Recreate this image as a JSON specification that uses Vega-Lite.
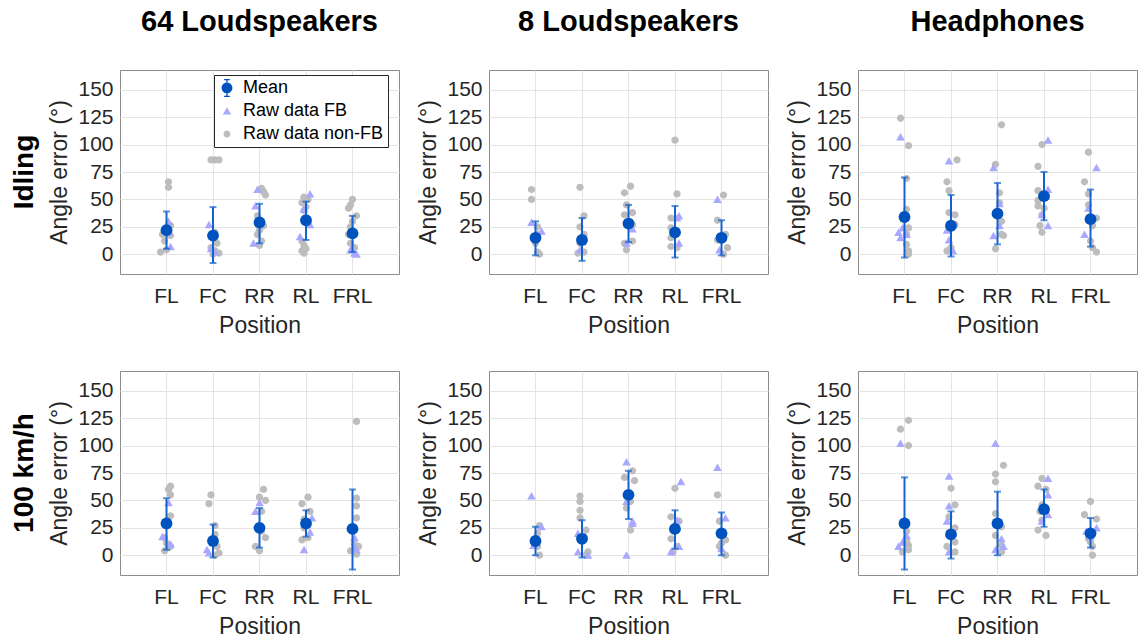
{
"$schema": "https://vega.github.io/schema/vega-lite/v6.json",
"background": "white",
"padding": {"left": 11, "top": 8, "right": 0, "bottom": 0},
"data": {"values": [
{"r":"Idling","c":"64 Loudspeakers","p":"FL","g":"Mean","v":22,"lo":5,"hi":39},
{"r":"Idling","c":"64 Loudspeakers","p":"FC","g":"Mean","v":17,"lo":-8,"hi":43},
{"r":"Idling","c":"64 Loudspeakers","p":"RR","g":"Mean","v":29,"lo":10,"hi":46},
{"r":"Idling","c":"64 Loudspeakers","p":"RL","g":"Mean","v":31,"lo":13,"hi":48},
{"r":"Idling","c":"64 Loudspeakers","p":"FRL","g":"Mean","v":19,"lo":2,"hi":35},
{"r":"Idling","c":"64 Loudspeakers","p":"FL","g":"Raw data non-FB","v":66,"j":6},
{"r":"Idling","c":"64 Loudspeakers","p":"FL","g":"Raw data non-FB","v":61,"j":6},
{"r":"Idling","c":"64 Loudspeakers","p":"FL","g":"Raw data non-FB","v":26,"j":7},
{"r":"Idling","c":"64 Loudspeakers","p":"FL","g":"Raw data non-FB","v":17,"j":7},
{"r":"Idling","c":"64 Loudspeakers","p":"FL","g":"Raw data non-FB","v":18,"j":3},
{"r":"Idling","c":"64 Loudspeakers","p":"FL","g":"Raw data non-FB","v":2,"j":2},
{"r":"Idling","c":"64 Loudspeakers","p":"FL","g":"Raw data non-FB","v":4,"j":5},
{"r":"Idling","c":"64 Loudspeakers","p":"FL","g":"Raw data non-FB","v":12,"j":4},
{"r":"Idling","c":"64 Loudspeakers","p":"FL","g":"Raw data non-FB","v":22,"j":6},
{"r":"Idling","c":"64 Loudspeakers","p":"FC","g":"Raw data non-FB","v":86,"j":4},
{"r":"Idling","c":"64 Loudspeakers","p":"FC","g":"Raw data non-FB","v":86,"j":6},
{"r":"Idling","c":"64 Loudspeakers","p":"FC","g":"Raw data non-FB","v":86,"j":8},
{"r":"Idling","c":"64 Loudspeakers","p":"FC","g":"Raw data non-FB","v":20,"j":6},
{"r":"Idling","c":"64 Loudspeakers","p":"FC","g":"Raw data non-FB","v":15,"j":5},
{"r":"Idling","c":"64 Loudspeakers","p":"FC","g":"Raw data non-FB","v":10,"j":7},
{"r":"Idling","c":"64 Loudspeakers","p":"FC","g":"Raw data non-FB","v":6,"j":4},
{"r":"Idling","c":"64 Loudspeakers","p":"FC","g":"Raw data non-FB","v":3,"j":6},
{"r":"Idling","c":"64 Loudspeakers","p":"FC","g":"Raw data non-FB","v":1,"j":8},
{"r":"Idling","c":"64 Loudspeakers","p":"FC","g":"Raw data non-FB","v":0,"j":5},
{"r":"Idling","c":"64 Loudspeakers","p":"RR","g":"Raw data non-FB","v":60,"j":6},
{"r":"Idling","c":"64 Loudspeakers","p":"RR","g":"Raw data non-FB","v":57,"j":7},
{"r":"Idling","c":"64 Loudspeakers","p":"RR","g":"Raw data non-FB","v":54,"j":8},
{"r":"Idling","c":"64 Loudspeakers","p":"RR","g":"Raw data non-FB","v":35,"j":4},
{"r":"Idling","c":"64 Loudspeakers","p":"RR","g":"Raw data non-FB","v":30,"j":6},
{"r":"Idling","c":"64 Loudspeakers","p":"RR","g":"Raw data non-FB","v":26,"j":7},
{"r":"Idling","c":"64 Loudspeakers","p":"RR","g":"Raw data non-FB","v":22,"j":5},
{"r":"Idling","c":"64 Loudspeakers","p":"RR","g":"Raw data non-FB","v":18,"j":4},
{"r":"Idling","c":"64 Loudspeakers","p":"RR","g":"Raw data non-FB","v":12,"j":6},
{"r":"Idling","c":"64 Loudspeakers","p":"RR","g":"Raw data non-FB","v":8,"j":5},
{"r":"Idling","c":"64 Loudspeakers","p":"RL","g":"Raw data non-FB","v":52,"j":4},
{"r":"Idling","c":"64 Loudspeakers","p":"RL","g":"Raw data non-FB","v":50,"j":6},
{"r":"Idling","c":"64 Loudspeakers","p":"RL","g":"Raw data non-FB","v":47,"j":3},
{"r":"Idling","c":"64 Loudspeakers","p":"RL","g":"Raw data non-FB","v":43,"j":5},
{"r":"Idling","c":"64 Loudspeakers","p":"RL","g":"Raw data non-FB","v":40,"j":4},
{"r":"Idling","c":"64 Loudspeakers","p":"RL","g":"Raw data non-FB","v":28,"j":6},
{"r":"Idling","c":"64 Loudspeakers","p":"RL","g":"Raw data non-FB","v":12,"j":3},
{"r":"Idling","c":"64 Loudspeakers","p":"RL","g":"Raw data non-FB","v":8,"j":4},
{"r":"Idling","c":"64 Loudspeakers","p":"RL","g":"Raw data non-FB","v":5,"j":5},
{"r":"Idling","c":"64 Loudspeakers","p":"RL","g":"Raw data non-FB","v":3,"j":3},
{"r":"Idling","c":"64 Loudspeakers","p":"RL","g":"Raw data non-FB","v":1,"j":4},
{"r":"Idling","c":"64 Loudspeakers","p":"FRL","g":"Raw data non-FB","v":50,"j":5},
{"r":"Idling","c":"64 Loudspeakers","p":"FRL","g":"Raw data non-FB","v":45,"j":4},
{"r":"Idling","c":"64 Loudspeakers","p":"FRL","g":"Raw data non-FB","v":42,"j":3},
{"r":"Idling","c":"64 Loudspeakers","p":"FRL","g":"Raw data non-FB","v":35,"j":7},
{"r":"Idling","c":"64 Loudspeakers","p":"FRL","g":"Raw data non-FB","v":30,"j":5},
{"r":"Idling","c":"64 Loudspeakers","p":"FRL","g":"Raw data non-FB","v":25,"j":4},
{"r":"Idling","c":"64 Loudspeakers","p":"FRL","g":"Raw data non-FB","v":18,"j":3},
{"r":"Idling","c":"64 Loudspeakers","p":"FRL","g":"Raw data non-FB","v":10,"j":4},
{"r":"Idling","c":"64 Loudspeakers","p":"FRL","g":"Raw data non-FB","v":6,"j":6},
{"r":"Idling","c":"64 Loudspeakers","p":"FL","g":"Raw data FB","v":30,"j":6},
{"r":"Idling","c":"64 Loudspeakers","p":"FL","g":"Raw data FB","v":7,"j":7},
{"r":"Idling","c":"64 Loudspeakers","p":"FL","g":"Raw data FB","v":20,"j":6},
{"r":"Idling","c":"64 Loudspeakers","p":"FC","g":"Raw data FB","v":27,"j":3},
{"r":"Idling","c":"64 Loudspeakers","p":"FC","g":"Raw data FB","v":5,"j":4},
{"r":"Idling","c":"64 Loudspeakers","p":"FC","g":"Raw data FB","v":2,"j":6},
{"r":"Idling","c":"64 Loudspeakers","p":"RR","g":"Raw data FB","v":59,"j":4},
{"r":"Idling","c":"64 Loudspeakers","p":"RR","g":"Raw data FB","v":44,"j":3},
{"r":"Idling","c":"64 Loudspeakers","p":"RR","g":"Raw data FB","v":10,"j":2},
{"r":"Idling","c":"64 Loudspeakers","p":"RL","g":"Raw data FB","v":55,"j":7},
{"r":"Idling","c":"64 Loudspeakers","p":"RL","g":"Raw data FB","v":41,"j":4},
{"r":"Idling","c":"64 Loudspeakers","p":"RL","g":"Raw data FB","v":27,"j":7},
{"r":"Idling","c":"64 Loudspeakers","p":"RL","g":"Raw data FB","v":16,"j":2},
{"r":"Idling","c":"64 Loudspeakers","p":"FRL","g":"Raw data FB","v":4,"j":4},
{"r":"Idling","c":"64 Loudspeakers","p":"FRL","g":"Raw data FB","v":1,"j":6},
{"r":"Idling","c":"64 Loudspeakers","p":"FRL","g":"Raw data FB","v":0,"j":7},

{"r":"Idling","c":"8 Loudspeakers","p":"FL","g":"Mean","v":15,"lo":-1,"hi":30},
{"r":"Idling","c":"8 Loudspeakers","p":"FC","g":"Mean","v":13,"lo":-6,"hi":33},
{"r":"Idling","c":"8 Loudspeakers","p":"RR","g":"Mean","v":28,"lo":11,"hi":45},
{"r":"Idling","c":"8 Loudspeakers","p":"RL","g":"Mean","v":20,"lo":-3,"hi":44},
{"r":"Idling","c":"8 Loudspeakers","p":"FRL","g":"Mean","v":15,"lo":-1,"hi":31},
{"r":"Idling","c":"8 Loudspeakers","p":"FL","g":"Raw data non-FB","v":59,"j":3},
{"r":"Idling","c":"8 Loudspeakers","p":"FL","g":"Raw data non-FB","v":50,"j":3},
{"r":"Idling","c":"8 Loudspeakers","p":"FL","g":"Raw data non-FB","v":25,"j":6},
{"r":"Idling","c":"8 Loudspeakers","p":"FL","g":"Raw data non-FB","v":18,"j":6},
{"r":"Idling","c":"8 Loudspeakers","p":"FL","g":"Raw data non-FB","v":10,"j":5},
{"r":"Idling","c":"8 Loudspeakers","p":"FL","g":"Raw data non-FB","v":2,"j":6},
{"r":"Idling","c":"8 Loudspeakers","p":"FL","g":"Raw data non-FB","v":0,"j":7},
{"r":"Idling","c":"8 Loudspeakers","p":"FC","g":"Raw data non-FB","v":61,"j":4},
{"r":"Idling","c":"8 Loudspeakers","p":"FC","g":"Raw data non-FB","v":35,"j":6},
{"r":"Idling","c":"8 Loudspeakers","p":"FC","g":"Raw data non-FB","v":25,"j":4},
{"r":"Idling","c":"8 Loudspeakers","p":"FC","g":"Raw data non-FB","v":18,"j":6},
{"r":"Idling","c":"8 Loudspeakers","p":"FC","g":"Raw data non-FB","v":10,"j":4},
{"r":"Idling","c":"8 Loudspeakers","p":"FC","g":"Raw data non-FB","v":2,"j":6},
{"r":"Idling","c":"8 Loudspeakers","p":"FC","g":"Raw data non-FB","v":1,"j":3},
{"r":"Idling","c":"8 Loudspeakers","p":"RR","g":"Raw data non-FB","v":62,"j":6},
{"r":"Idling","c":"8 Loudspeakers","p":"RR","g":"Raw data non-FB","v":56,"j":3},
{"r":"Idling","c":"8 Loudspeakers","p":"RR","g":"Raw data non-FB","v":45,"j":4},
{"r":"Idling","c":"8 Loudspeakers","p":"RR","g":"Raw data non-FB","v":36,"j":3},
{"r":"Idling","c":"8 Loudspeakers","p":"RR","g":"Raw data non-FB","v":38,"j":7},
{"r":"Idling","c":"8 Loudspeakers","p":"RR","g":"Raw data non-FB","v":27,"j":7},
{"r":"Idling","c":"8 Loudspeakers","p":"RR","g":"Raw data non-FB","v":12,"j":7},
{"r":"Idling","c":"8 Loudspeakers","p":"RR","g":"Raw data non-FB","v":4,"j":4},
{"r":"Idling","c":"8 Loudspeakers","p":"RR","g":"Raw data non-FB","v":10,"j":3},
{"r":"Idling","c":"8 Loudspeakers","p":"RL","g":"Raw data non-FB","v":104,"j":5},
{"r":"Idling","c":"8 Loudspeakers","p":"RL","g":"Raw data non-FB","v":55,"j":6},
{"r":"Idling","c":"8 Loudspeakers","p":"RL","g":"Raw data non-FB","v":33,"j":3},
{"r":"Idling","c":"8 Loudspeakers","p":"RL","g":"Raw data non-FB","v":24,"j":3},
{"r":"Idling","c":"8 Loudspeakers","p":"RL","g":"Raw data non-FB","v":15,"j":3},
{"r":"Idling","c":"8 Loudspeakers","p":"RL","g":"Raw data non-FB","v":6,"j":6},
{"r":"Idling","c":"8 Loudspeakers","p":"RL","g":"Raw data non-FB","v":7,"j":3},
{"r":"Idling","c":"8 Loudspeakers","p":"FRL","g":"Raw data non-FB","v":54,"j":6},
{"r":"Idling","c":"8 Loudspeakers","p":"FRL","g":"Raw data non-FB","v":31,"j":3},
{"r":"Idling","c":"8 Loudspeakers","p":"FRL","g":"Raw data non-FB","v":18,"j":7},
{"r":"Idling","c":"8 Loudspeakers","p":"FRL","g":"Raw data non-FB","v":13,"j":3},
{"r":"Idling","c":"8 Loudspeakers","p":"FRL","g":"Raw data non-FB","v":6,"j":8},
{"r":"Idling","c":"8 Loudspeakers","p":"FRL","g":"Raw data non-FB","v":0,"j":6},
{"r":"Idling","c":"8 Loudspeakers","p":"FL","g":"Raw data FB","v":29,"j":3},
{"r":"Idling","c":"8 Loudspeakers","p":"FL","g":"Raw data FB","v":21,"j":8},
{"r":"Idling","c":"8 Loudspeakers","p":"FC","g":"Raw data FB","v":4,"j":4},
{"r":"Idling","c":"8 Loudspeakers","p":"RR","g":"Raw data FB","v":23,"j":7},
{"r":"Idling","c":"8 Loudspeakers","p":"RR","g":"Raw data FB","v":10,"j":4},
{"r":"Idling","c":"8 Loudspeakers","p":"RL","g":"Raw data FB","v":35,"j":7},
{"r":"Idling","c":"8 Loudspeakers","p":"RL","g":"Raw data FB","v":33,"j":6},
{"r":"Idling","c":"8 Loudspeakers","p":"RL","g":"Raw data FB","v":10,"j":7},
{"r":"Idling","c":"8 Loudspeakers","p":"FRL","g":"Raw data FB","v":50,"j":3},
{"r":"Idling","c":"8 Loudspeakers","p":"FRL","g":"Raw data FB","v":4,"j":4},

{"r":"Idling","c":"Headphones","p":"FL","g":"Mean","v":34,"lo":-3,"hi":70},
{"r":"Idling","c":"Headphones","p":"FC","g":"Mean","v":26,"lo":-2,"hi":54},
{"r":"Idling","c":"Headphones","p":"RR","g":"Mean","v":37,"lo":9,"hi":65},
{"r":"Idling","c":"Headphones","p":"RL","g":"Mean","v":53,"lo":31,"hi":75},
{"r":"Idling","c":"Headphones","p":"FRL","g":"Mean","v":32,"lo":7,"hi":59},
{"r":"Idling","c":"Headphones","p":"FL","g":"Raw data non-FB","v":124,"j":3},
{"r":"Idling","c":"Headphones","p":"FL","g":"Raw data non-FB","v":99,"j":7},
{"r":"Idling","c":"Headphones","p":"FL","g":"Raw data non-FB","v":69,"j":6},
{"r":"Idling","c":"Headphones","p":"FL","g":"Raw data non-FB","v":41,"j":6},
{"r":"Idling","c":"Headphones","p":"FL","g":"Raw data non-FB","v":33,"j":6},
{"r":"Idling","c":"Headphones","p":"FL","g":"Raw data non-FB","v":24,"j":7},
{"r":"Idling","c":"Headphones","p":"FL","g":"Raw data non-FB","v":18,"j":6},
{"r":"Idling","c":"Headphones","p":"FL","g":"Raw data non-FB","v":9,"j":6},
{"r":"Idling","c":"Headphones","p":"FL","g":"Raw data non-FB","v":3,"j":7},
{"r":"Idling","c":"Headphones","p":"FL","g":"Raw data non-FB","v":0,"j":7},
{"r":"Idling","c":"Headphones","p":"FC","g":"Raw data non-FB","v":86,"j":8},
{"r":"Idling","c":"Headphones","p":"FC","g":"Raw data non-FB","v":66,"j":3},
{"r":"Idling","c":"Headphones","p":"FC","g":"Raw data non-FB","v":58,"j":4},
{"r":"Idling","c":"Headphones","p":"FC","g":"Raw data non-FB","v":38,"j":4},
{"r":"Idling","c":"Headphones","p":"FC","g":"Raw data non-FB","v":36,"j":7},
{"r":"Idling","c":"Headphones","p":"FC","g":"Raw data non-FB","v":27,"j":7},
{"r":"Idling","c":"Headphones","p":"FC","g":"Raw data non-FB","v":3,"j":3},
{"r":"Idling","c":"Headphones","p":"FC","g":"Raw data non-FB","v":6,"j":5},
{"r":"Idling","c":"Headphones","p":"RR","g":"Raw data non-FB","v":118,"j":7},
{"r":"Idling","c":"Headphones","p":"RR","g":"Raw data non-FB","v":82,"j":4},
{"r":"Idling","c":"Headphones","p":"RR","g":"Raw data non-FB","v":56,"j":6},
{"r":"Idling","c":"Headphones","p":"RR","g":"Raw data non-FB","v":47,"j":6},
{"r":"Idling","c":"Headphones","p":"RR","g":"Raw data non-FB","v":30,"j":7},
{"r":"Idling","c":"Headphones","p":"RR","g":"Raw data non-FB","v":18,"j":7},
{"r":"Idling","c":"Headphones","p":"RR","g":"Raw data non-FB","v":17,"j":8},
{"r":"Idling","c":"Headphones","p":"RR","g":"Raw data non-FB","v":5,"j":4},
{"r":"Idling","c":"Headphones","p":"RL","g":"Raw data non-FB","v":100,"j":4},
{"r":"Idling","c":"Headphones","p":"RL","g":"Raw data non-FB","v":80,"j":2},
{"r":"Idling","c":"Headphones","p":"RL","g":"Raw data non-FB","v":58,"j":2},
{"r":"Idling","c":"Headphones","p":"RL","g":"Raw data non-FB","v":49,"j":2},
{"r":"Idling","c":"Headphones","p":"RL","g":"Raw data non-FB","v":44,"j":2},
{"r":"Idling","c":"Headphones","p":"RL","g":"Raw data non-FB","v":36,"j":4},
{"r":"Idling","c":"Headphones","p":"RL","g":"Raw data non-FB","v":26,"j":3},
{"r":"Idling","c":"Headphones","p":"RL","g":"Raw data non-FB","v":20,"j":4},
{"r":"Idling","c":"Headphones","p":"RL","g":"Raw data non-FB","v":42,"j":5},
{"r":"Idling","c":"Headphones","p":"FRL","g":"Raw data non-FB","v":93,"j":4},
{"r":"Idling","c":"Headphones","p":"FRL","g":"Raw data non-FB","v":66,"j":2},
{"r":"Idling","c":"Headphones","p":"FRL","g":"Raw data non-FB","v":55,"j":4},
{"r":"Idling","c":"Headphones","p":"FRL","g":"Raw data non-FB","v":33,"j":8},
{"r":"Idling","c":"Headphones","p":"FRL","g":"Raw data non-FB","v":26,"j":6},
{"r":"Idling","c":"Headphones","p":"FRL","g":"Raw data non-FB","v":12,"j":5},
{"r":"Idling","c":"Headphones","p":"FRL","g":"Raw data non-FB","v":6,"j":6},
{"r":"Idling","c":"Headphones","p":"FRL","g":"Raw data non-FB","v":2,"j":8},
{"r":"Idling","c":"Headphones","p":"FRL","g":"Raw data non-FB","v":45,"j":4},
{"r":"Idling","c":"Headphones","p":"FL","g":"Raw data FB","v":107,"j":3},
{"r":"Idling","c":"Headphones","p":"FL","g":"Raw data FB","v":24,"j":4},
{"r":"Idling","c":"Headphones","p":"FL","g":"Raw data FB","v":18,"j":6},
{"r":"Idling","c":"Headphones","p":"FL","g":"Raw data FB","v":15,"j":3},
{"r":"Idling","c":"Headphones","p":"FL","g":"Raw data FB","v":20,"j":2},
{"r":"Idling","c":"Headphones","p":"FC","g":"Raw data FB","v":85,"j":4},
{"r":"Idling","c":"Headphones","p":"FC","g":"Raw data FB","v":22,"j":3},
{"r":"Idling","c":"Headphones","p":"FC","g":"Raw data FB","v":13,"j":4},
{"r":"Idling","c":"Headphones","p":"FC","g":"Raw data FB","v":3,"j":6},
{"r":"Idling","c":"Headphones","p":"RR","g":"Raw data FB","v":79,"j":3},
{"r":"Idling","c":"Headphones","p":"RR","g":"Raw data FB","v":46,"j":6},
{"r":"Idling","c":"Headphones","p":"RR","g":"Raw data FB","v":26,"j":6},
{"r":"Idling","c":"Headphones","p":"RR","g":"Raw data FB","v":17,"j":3},
{"r":"Idling","c":"Headphones","p":"RL","g":"Raw data FB","v":104,"j":7},
{"r":"Idling","c":"Headphones","p":"RL","g":"Raw data FB","v":59,"j":7},
{"r":"Idling","c":"Headphones","p":"RL","g":"Raw data FB","v":26,"j":7},
{"r":"Idling","c":"Headphones","p":"RL","g":"Raw data FB","v":36,"j":4},
{"r":"Idling","c":"Headphones","p":"FRL","g":"Raw data FB","v":79,"j":8},
{"r":"Idling","c":"Headphones","p":"FRL","g":"Raw data FB","v":42,"j":4},
{"r":"Idling","c":"Headphones","p":"FRL","g":"Raw data FB","v":18,"j":2},

{"r":"100 km/h","c":"64 Loudspeakers","p":"FL","g":"Mean","v":29,"lo":5,"hi":52},
{"r":"100 km/h","c":"64 Loudspeakers","p":"FC","g":"Mean","v":13,"lo":-2,"hi":28},
{"r":"100 km/h","c":"64 Loudspeakers","p":"RR","g":"Mean","v":25,"lo":7,"hi":43},
{"r":"100 km/h","c":"64 Loudspeakers","p":"RL","g":"Mean","v":29,"lo":17,"hi":41},
{"r":"100 km/h","c":"64 Loudspeakers","p":"FRL","g":"Mean","v":24,"lo":-13,"hi":60},
{"r":"100 km/h","c":"64 Loudspeakers","p":"FL","g":"Raw data non-FB","v":63,"j":7},
{"r":"100 km/h","c":"64 Loudspeakers","p":"FL","g":"Raw data non-FB","v":60,"j":6},
{"r":"100 km/h","c":"64 Loudspeakers","p":"FL","g":"Raw data non-FB","v":55,"j":7},
{"r":"100 km/h","c":"64 Loudspeakers","p":"FL","g":"Raw data non-FB","v":36,"j":7},
{"r":"100 km/h","c":"64 Loudspeakers","p":"FL","g":"Raw data non-FB","v":16,"j":4},
{"r":"100 km/h","c":"64 Loudspeakers","p":"FL","g":"Raw data non-FB","v":11,"j":5},
{"r":"100 km/h","c":"64 Loudspeakers","p":"FL","g":"Raw data non-FB","v":4,"j":4},
{"r":"100 km/h","c":"64 Loudspeakers","p":"FL","g":"Raw data non-FB","v":7,"j":6},
{"r":"100 km/h","c":"64 Loudspeakers","p":"FL","g":"Raw data non-FB","v":8,"j":7},
{"r":"100 km/h","c":"64 Loudspeakers","p":"FC","g":"Raw data non-FB","v":55,"j":4},
{"r":"100 km/h","c":"64 Loudspeakers","p":"FC","g":"Raw data non-FB","v":47,"j":3},
{"r":"100 km/h","c":"64 Loudspeakers","p":"FC","g":"Raw data non-FB","v":27,"j":6},
{"r":"100 km/h","c":"64 Loudspeakers","p":"FC","g":"Raw data non-FB","v":19,"j":6},
{"r":"100 km/h","c":"64 Loudspeakers","p":"FC","g":"Raw data non-FB","v":8,"j":7},
{"r":"100 km/h","c":"64 Loudspeakers","p":"FC","g":"Raw data non-FB","v":2,"j":8},
{"r":"100 km/h","c":"64 Loudspeakers","p":"FC","g":"Raw data non-FB","v":0,"j":6},
{"r":"100 km/h","c":"64 Loudspeakers","p":"RR","g":"Raw data non-FB","v":60,"j":7},
{"r":"100 km/h","c":"64 Loudspeakers","p":"RR","g":"Raw data non-FB","v":53,"j":5},
{"r":"100 km/h","c":"64 Loudspeakers","p":"RR","g":"Raw data non-FB","v":50,"j":8},
{"r":"100 km/h","c":"64 Loudspeakers","p":"RR","g":"Raw data non-FB","v":40,"j":6},
{"r":"100 km/h","c":"64 Loudspeakers","p":"RR","g":"Raw data non-FB","v":16,"j":8},
{"r":"100 km/h","c":"64 Loudspeakers","p":"RR","g":"Raw data non-FB","v":8,"j":3},
{"r":"100 km/h","c":"64 Loudspeakers","p":"RR","g":"Raw data non-FB","v":4,"j":5},
{"r":"100 km/h","c":"64 Loudspeakers","p":"RR","g":"Raw data non-FB","v":22,"j":6},
{"r":"100 km/h","c":"64 Loudspeakers","p":"RL","g":"Raw data non-FB","v":53,"j":6},
{"r":"100 km/h","c":"64 Loudspeakers","p":"RL","g":"Raw data non-FB","v":47,"j":3},
{"r":"100 km/h","c":"64 Loudspeakers","p":"RL","g":"Raw data non-FB","v":40,"j":7},
{"r":"100 km/h","c":"64 Loudspeakers","p":"RL","g":"Raw data non-FB","v":33,"j":4},
{"r":"100 km/h","c":"64 Loudspeakers","p":"RL","g":"Raw data non-FB","v":25,"j":4},
{"r":"100 km/h","c":"64 Loudspeakers","p":"RL","g":"Raw data non-FB","v":16,"j":6},
{"r":"100 km/h","c":"64 Loudspeakers","p":"RL","g":"Raw data non-FB","v":14,"j":3},
{"r":"100 km/h","c":"64 Loudspeakers","p":"FRL","g":"Raw data non-FB","v":122,"j":7},
{"r":"100 km/h","c":"64 Loudspeakers","p":"FRL","g":"Raw data non-FB","v":52,"j":7},
{"r":"100 km/h","c":"64 Loudspeakers","p":"FRL","g":"Raw data non-FB","v":45,"j":7},
{"r":"100 km/h","c":"64 Loudspeakers","p":"FRL","g":"Raw data non-FB","v":34,"j":7},
{"r":"100 km/h","c":"64 Loudspeakers","p":"FRL","g":"Raw data non-FB","v":10,"j":6},
{"r":"100 km/h","c":"64 Loudspeakers","p":"FRL","g":"Raw data non-FB","v":8,"j":8},
{"r":"100 km/h","c":"64 Loudspeakers","p":"FRL","g":"Raw data non-FB","v":4,"j":4},
{"r":"100 km/h","c":"64 Loudspeakers","p":"FRL","g":"Raw data non-FB","v":1,"j":7},
{"r":"100 km/h","c":"64 Loudspeakers","p":"FL","g":"Raw data FB","v":48,"j":6},
{"r":"100 km/h","c":"64 Loudspeakers","p":"FL","g":"Raw data FB","v":17,"j":3},
{"r":"100 km/h","c":"64 Loudspeakers","p":"FL","g":"Raw data FB","v":10,"j":7},
{"r":"100 km/h","c":"64 Loudspeakers","p":"FC","g":"Raw data FB","v":5,"j":2},
{"r":"100 km/h","c":"64 Loudspeakers","p":"FC","g":"Raw data FB","v":2,"j":3},
{"r":"100 km/h","c":"64 Loudspeakers","p":"RR","g":"Raw data FB","v":48,"j":5},
{"r":"100 km/h","c":"64 Loudspeakers","p":"RR","g":"Raw data FB","v":40,"j":3},
{"r":"100 km/h","c":"64 Loudspeakers","p":"RL","g":"Raw data FB","v":34,"j":8},
{"r":"100 km/h","c":"64 Loudspeakers","p":"RL","g":"Raw data FB","v":21,"j":7},
{"r":"100 km/h","c":"64 Loudspeakers","p":"RL","g":"Raw data FB","v":5,"j":4},
{"r":"100 km/h","c":"64 Loudspeakers","p":"FRL","g":"Raw data FB","v":16,"j":6},
{"r":"100 km/h","c":"64 Loudspeakers","p":"FRL","g":"Raw data FB","v":5,"j":7},
{"r":"100 km/h","c":"64 Loudspeakers","p":"FRL","g":"Raw data FB","v":8,"j":6},

{"r":"100 km/h","c":"8 Loudspeakers","p":"FL","g":"Mean","v":13,"lo":0,"hi":26},
{"r":"100 km/h","c":"8 Loudspeakers","p":"FC","g":"Mean","v":15,"lo":-2,"hi":32},
{"r":"100 km/h","c":"8 Loudspeakers","p":"RR","g":"Mean","v":55,"lo":33,"hi":77},
{"r":"100 km/h","c":"8 Loudspeakers","p":"RL","g":"Mean","v":24,"lo":6,"hi":41},
{"r":"100 km/h","c":"8 Loudspeakers","p":"FRL","g":"Mean","v":20,"lo":0,"hi":39},
{"r":"100 km/h","c":"8 Loudspeakers","p":"FL","g":"Raw data non-FB","v":27,"j":7},
{"r":"100 km/h","c":"8 Loudspeakers","p":"FL","g":"Raw data non-FB","v":20,"j":6},
{"r":"100 km/h","c":"8 Loudspeakers","p":"FL","g":"Raw data non-FB","v":12,"j":4},
{"r":"100 km/h","c":"8 Loudspeakers","p":"FL","g":"Raw data non-FB","v":8,"j":6},
{"r":"100 km/h","c":"8 Loudspeakers","p":"FL","g":"Raw data non-FB","v":0,"j":7},
{"r":"100 km/h","c":"8 Loudspeakers","p":"FC","g":"Raw data non-FB","v":54,"j":4},
{"r":"100 km/h","c":"8 Loudspeakers","p":"FC","g":"Raw data non-FB","v":49,"j":4},
{"r":"100 km/h","c":"8 Loudspeakers","p":"FC","g":"Raw data non-FB","v":41,"j":4},
{"r":"100 km/h","c":"8 Loudspeakers","p":"FC","g":"Raw data non-FB","v":34,"j":4},
{"r":"100 km/h","c":"8 Loudspeakers","p":"FC","g":"Raw data non-FB","v":23,"j":7},
{"r":"100 km/h","c":"8 Loudspeakers","p":"FC","g":"Raw data non-FB","v":17,"j":6},
{"r":"100 km/h","c":"8 Loudspeakers","p":"FC","g":"Raw data non-FB","v":3,"j":8},
{"r":"100 km/h","c":"8 Loudspeakers","p":"FC","g":"Raw data non-FB","v":0,"j":7},
{"r":"100 km/h","c":"8 Loudspeakers","p":"RR","g":"Raw data non-FB","v":77,"j":7},
{"r":"100 km/h","c":"8 Loudspeakers","p":"RR","g":"Raw data non-FB","v":71,"j":3},
{"r":"100 km/h","c":"8 Loudspeakers","p":"RR","g":"Raw data non-FB","v":68,"j":8},
{"r":"100 km/h","c":"8 Loudspeakers","p":"RR","g":"Raw data non-FB","v":49,"j":6},
{"r":"100 km/h","c":"8 Loudspeakers","p":"RR","g":"Raw data non-FB","v":23,"j":6},
{"r":"100 km/h","c":"8 Loudspeakers","p":"RR","g":"Raw data non-FB","v":43,"j":4},
{"r":"100 km/h","c":"8 Loudspeakers","p":"RL","g":"Raw data non-FB","v":61,"j":5},
{"r":"100 km/h","c":"8 Loudspeakers","p":"RL","g":"Raw data non-FB","v":35,"j":3},
{"r":"100 km/h","c":"8 Loudspeakers","p":"RL","g":"Raw data non-FB","v":31,"j":7},
{"r":"100 km/h","c":"8 Loudspeakers","p":"RL","g":"Raw data non-FB","v":22,"j":4},
{"r":"100 km/h","c":"8 Loudspeakers","p":"RL","g":"Raw data non-FB","v":15,"j":3},
{"r":"100 km/h","c":"8 Loudspeakers","p":"RL","g":"Raw data non-FB","v":8,"j":6},
{"r":"100 km/h","c":"8 Loudspeakers","p":"RL","g":"Raw data non-FB","v":3,"j":4},
{"r":"100 km/h","c":"8 Loudspeakers","p":"FRL","g":"Raw data non-FB","v":55,"j":3},
{"r":"100 km/h","c":"8 Loudspeakers","p":"FRL","g":"Raw data non-FB","v":31,"j":4},
{"r":"100 km/h","c":"8 Loudspeakers","p":"FRL","g":"Raw data non-FB","v":14,"j":7},
{"r":"100 km/h","c":"8 Loudspeakers","p":"FRL","g":"Raw data non-FB","v":11,"j":5},
{"r":"100 km/h","c":"8 Loudspeakers","p":"FRL","g":"Raw data non-FB","v":0,"j":7},
{"r":"100 km/h","c":"8 Loudspeakers","p":"FRL","g":"Raw data non-FB","v":8,"j":4},
{"r":"100 km/h","c":"8 Loudspeakers","p":"FL","g":"Raw data FB","v":54,"j":3},
{"r":"100 km/h","c":"8 Loudspeakers","p":"FL","g":"Raw data FB","v":26,"j":8},
{"r":"100 km/h","c":"8 Loudspeakers","p":"FL","g":"Raw data FB","v":9,"j":4},
{"r":"100 km/h","c":"8 Loudspeakers","p":"FC","g":"Raw data FB","v":20,"j":3},
{"r":"100 km/h","c":"8 Loudspeakers","p":"FC","g":"Raw data FB","v":3,"j":3},
{"r":"100 km/h","c":"8 Loudspeakers","p":"FC","g":"Raw data FB","v":0,"j":8},
{"r":"100 km/h","c":"8 Loudspeakers","p":"RR","g":"Raw data FB","v":85,"j":4},
{"r":"100 km/h","c":"8 Loudspeakers","p":"RR","g":"Raw data FB","v":49,"j":4},
{"r":"100 km/h","c":"8 Loudspeakers","p":"RR","g":"Raw data FB","v":31,"j":7},
{"r":"100 km/h","c":"8 Loudspeakers","p":"RR","g":"Raw data FB","v":0,"j":4},
{"r":"100 km/h","c":"8 Loudspeakers","p":"RR","g":"Raw data FB","v":29,"j":7},
{"r":"100 km/h","c":"8 Loudspeakers","p":"RL","g":"Raw data FB","v":67,"j":8},
{"r":"100 km/h","c":"8 Loudspeakers","p":"RL","g":"Raw data FB","v":32,"j":6},
{"r":"100 km/h","c":"8 Loudspeakers","p":"RL","g":"Raw data FB","v":3,"j":3},
{"r":"100 km/h","c":"8 Loudspeakers","p":"RL","g":"Raw data FB","v":8,"j":7},
{"r":"100 km/h","c":"8 Loudspeakers","p":"FRL","g":"Raw data FB","v":80,"j":3},
{"r":"100 km/h","c":"8 Loudspeakers","p":"FRL","g":"Raw data FB","v":34,"j":7},
{"r":"100 km/h","c":"8 Loudspeakers","p":"FRL","g":"Raw data FB","v":6,"j":5},

{"r":"100 km/h","c":"Headphones","p":"FL","g":"Mean","v":29,"lo":-13,"hi":71},
{"r":"100 km/h","c":"Headphones","p":"FC","g":"Mean","v":19,"lo":-3,"hi":40},
{"r":"100 km/h","c":"Headphones","p":"RR","g":"Mean","v":29,"lo":0,"hi":58},
{"r":"100 km/h","c":"Headphones","p":"RL","g":"Mean","v":42,"lo":26,"hi":60},
{"r":"100 km/h","c":"Headphones","p":"FRL","g":"Mean","v":20,"lo":7,"hi":34},
{"r":"100 km/h","c":"Headphones","p":"FL","g":"Raw data non-FB","v":123,"j":7},
{"r":"100 km/h","c":"Headphones","p":"FL","g":"Raw data non-FB","v":115,"j":3},
{"r":"100 km/h","c":"Headphones","p":"FL","g":"Raw data non-FB","v":100,"j":7},
{"r":"100 km/h","c":"Headphones","p":"FL","g":"Raw data non-FB","v":22,"j":6},
{"r":"100 km/h","c":"Headphones","p":"FL","g":"Raw data non-FB","v":14,"j":6},
{"r":"100 km/h","c":"Headphones","p":"FL","g":"Raw data non-FB","v":9,"j":7},
{"r":"100 km/h","c":"Headphones","p":"FL","g":"Raw data non-FB","v":5,"j":7},
{"r":"100 km/h","c":"Headphones","p":"FL","g":"Raw data non-FB","v":3,"j":4},
{"r":"100 km/h","c":"Headphones","p":"FC","g":"Raw data non-FB","v":61,"j":5},
{"r":"100 km/h","c":"Headphones","p":"FC","g":"Raw data non-FB","v":46,"j":7},
{"r":"100 km/h","c":"Headphones","p":"FC","g":"Raw data non-FB","v":35,"j":4},
{"r":"100 km/h","c":"Headphones","p":"FC","g":"Raw data non-FB","v":25,"j":7},
{"r":"100 km/h","c":"Headphones","p":"FC","g":"Raw data non-FB","v":12,"j":7},
{"r":"100 km/h","c":"Headphones","p":"FC","g":"Raw data non-FB","v":8,"j":3},
{"r":"100 km/h","c":"Headphones","p":"FC","g":"Raw data non-FB","v":3,"j":7},
{"r":"100 km/h","c":"Headphones","p":"RR","g":"Raw data non-FB","v":82,"j":8},
{"r":"100 km/h","c":"Headphones","p":"RR","g":"Raw data non-FB","v":74,"j":4},
{"r":"100 km/h","c":"Headphones","p":"RR","g":"Raw data non-FB","v":67,"j":4},
{"r":"100 km/h","c":"Headphones","p":"RR","g":"Raw data non-FB","v":38,"j":4},
{"r":"100 km/h","c":"Headphones","p":"RR","g":"Raw data non-FB","v":26,"j":7},
{"r":"100 km/h","c":"Headphones","p":"RR","g":"Raw data non-FB","v":18,"j":4},
{"r":"100 km/h","c":"Headphones","p":"RR","g":"Raw data non-FB","v":9,"j":7},
{"r":"100 km/h","c":"Headphones","p":"RR","g":"Raw data non-FB","v":3,"j":7},
{"r":"100 km/h","c":"Headphones","p":"RL","g":"Raw data non-FB","v":70,"j":4},
{"r":"100 km/h","c":"Headphones","p":"RL","g":"Raw data non-FB","v":63,"j":2},
{"r":"100 km/h","c":"Headphones","p":"RL","g":"Raw data non-FB","v":60,"j":6},
{"r":"100 km/h","c":"Headphones","p":"RL","g":"Raw data non-FB","v":46,"j":4},
{"r":"100 km/h","c":"Headphones","p":"RL","g":"Raw data non-FB","v":40,"j":3},
{"r":"100 km/h","c":"Headphones","p":"RL","g":"Raw data non-FB","v":23,"j":2},
{"r":"100 km/h","c":"Headphones","p":"RL","g":"Raw data non-FB","v":18,"j":6},
{"r":"100 km/h","c":"Headphones","p":"RL","g":"Raw data non-FB","v":32,"j":4},
{"r":"100 km/h","c":"Headphones","p":"FRL","g":"Raw data non-FB","v":49,"j":5},
{"r":"100 km/h","c":"Headphones","p":"FRL","g":"Raw data non-FB","v":37,"j":2},
{"r":"100 km/h","c":"Headphones","p":"FRL","g":"Raw data non-FB","v":33,"j":8},
{"r":"100 km/h","c":"Headphones","p":"FRL","g":"Raw data non-FB","v":12,"j":5},
{"r":"100 km/h","c":"Headphones","p":"FRL","g":"Raw data non-FB","v":8,"j":6},
{"r":"100 km/h","c":"Headphones","p":"FRL","g":"Raw data non-FB","v":0,"j":6},
{"r":"100 km/h","c":"Headphones","p":"FRL","g":"Raw data non-FB","v":15,"j":4},
{"r":"100 km/h","c":"Headphones","p":"FL","g":"Raw data FB","v":102,"j":3},
{"r":"100 km/h","c":"Headphones","p":"FL","g":"Raw data FB","v":18,"j":6},
{"r":"100 km/h","c":"Headphones","p":"FL","g":"Raw data FB","v":8,"j":2},
{"r":"100 km/h","c":"Headphones","p":"FL","g":"Raw data FB","v":12,"j":4},
{"r":"100 km/h","c":"Headphones","p":"FC","g":"Raw data FB","v":72,"j":4},
{"r":"100 km/h","c":"Headphones","p":"FC","g":"Raw data FB","v":45,"j":4},
{"r":"100 km/h","c":"Headphones","p":"FC","g":"Raw data FB","v":31,"j":3},
{"r":"100 km/h","c":"Headphones","p":"FC","g":"Raw data FB","v":3,"j":4},
{"r":"100 km/h","c":"Headphones","p":"RR","g":"Raw data FB","v":102,"j":4},
{"r":"100 km/h","c":"Headphones","p":"RR","g":"Raw data FB","v":15,"j":7},
{"r":"100 km/h","c":"Headphones","p":"RR","g":"Raw data FB","v":8,"j":8},
{"r":"100 km/h","c":"Headphones","p":"RR","g":"Raw data FB","v":5,"j":4},
{"r":"100 km/h","c":"Headphones","p":"RL","g":"Raw data FB","v":70,"j":7},
{"r":"100 km/h","c":"Headphones","p":"RL","g":"Raw data FB","v":55,"j":7},
{"r":"100 km/h","c":"Headphones","p":"RL","g":"Raw data FB","v":31,"j":4},
{"r":"100 km/h","c":"Headphones","p":"RL","g":"Raw data FB","v":37,"j":7},
{"r":"100 km/h","c":"Headphones","p":"FRL","g":"Raw data FB","v":22,"j":3},
{"r":"100 km/h","c":"Headphones","p":"FRL","g":"Raw data FB","v":25,"j":8},
{"r":"100 km/h","c":"Headphones","p":"FRL","g":"Raw data FB","v":17,"j":5}
]},
"facet": {
  "row": {"field": "r", "type": "nominal", "sort": ["Idling", "100 km/h"], "header": {"title": null, "labelFontSize": 28, "labelAngle": -90, "labelOrient": "left", "labelPadding": 67}},
  "column": {"field": "c", "type": "nominal", "sort": ["64 Loudspeakers", "8 Loudspeakers", "Headphones"], "header": {"title": null, "labelFontSize": 29, "labelPadding": 33}}
},
"spacing": {"row": 97, "column": 90},
"bounds": "flush",
"resolve": {"axis": {"x": "independent", "y": "independent"}},
"spec": {
  "width": 279,
  "height": 204,
  "encoding": {
    "x": {"field": "p", "type": "nominal", "sort": ["FL", "FC", "RR", "RL", "FRL"], "scale": {"type": "band", "paddingInner": 0.656, "paddingOuter": 0.828}, "axis": {"title": "Position", "bandPosition": 0.5}}
  },
  "layer": [
    {
      "transform": [{"filter": "datum.g === 'Raw data non-FB'"}],
      "mark": {"type": "point", "filled": true, "opacity": 1, "size": 350},
      "encoding": {
        "y": {"field": "v", "type": "quantitative", "scale": {"domain": [-18, 168], "nice": false, "zero": false}, "axis": {"title": "Angle error (°)", "values": [0, 25, 50, 75, 100, 125, 150]}},
        "xOffset": {"field": "j", "type": "ordinal", "scale": {"type": "point", "domain": [1,2,3,4,5,6,7,8,9], "padding": 0}},
        "color": {"field": "g", "type": "nominal", "scale": {"domain": ["Mean", "Raw data FB", "Raw data non-FB"], "range": ["#0052BE", "#A8A8FF", "#BDBDBD"]}, "legend": {"title": null}},
        "shape": {"field": "g", "type": "nominal", "scale": {"domain": ["Mean", "Raw data FB", "Raw data non-FB"], "range": [
          "M-0.6,0A0.6,0.6 0 1,0 0.6,0A0.6,0.6 0 1,0 -0.6,0ZM-0.07,-0.86L0.07,-0.86L0.07,-0.58L-0.07,-0.58ZM-0.07,0.58L0.07,0.58L0.07,0.86L-0.07,0.86ZM-0.32,-1L0.32,-1L0.32,-0.86L-0.32,-0.86ZM-0.32,0.86L0.32,0.86L0.32,1L-0.32,1Z",
          "M0,-0.42L0.46,0.38L-0.46,0.38Z",
          "M-0.39,0A0.39,0.39 0 1,0 0.39,0A0.39,0.39 0 1,0 -0.39,0Z"]}, "legend": {"title": null}}
      }
    },
    {
      "transform": [{"filter": "datum.g === 'Raw data FB'"}],
      "mark": {"type": "point", "filled": true, "opacity": 1, "size": 350},
      "encoding": {
        "y": {"field": "v", "type": "quantitative", "axis": {"title": "Angle error (°)", "values": [0, 25, 50, 75, 100, 125, 150]}},
        "xOffset": {"field": "j", "type": "ordinal"},
        "color": {"field": "g", "type": "nominal"},
        "shape": {"field": "g", "type": "nominal"}
      }
    },
    {
      "transform": [{"filter": "datum.g === 'Mean'"}],
      "mark": {"type": "rule", "color": "#1662CC", "strokeWidth": 2},
      "encoding": {
        "y": {"field": "lo", "type": "quantitative", "axis": {"title": "Angle error (°)", "values": [0, 25, 50, 75, 100, 125, 150]}},
        "y2": {"field": "hi"}
      }
    },
    {
      "transform": [{"filter": "datum.g === 'Mean'"}],
      "mark": {"type": "tick", "color": "#1662CC", "size": 7, "thickness": 2, "orient": "horizontal"},
      "encoding": {"y": {"field": "lo", "type": "quantitative", "axis": {"title": "Angle error (°)", "values": [0, 25, 50, 75, 100, 125, 150]}}}
    },
    {
      "transform": [{"filter": "datum.g === 'Mean'"}],
      "mark": {"type": "tick", "color": "#1662CC", "size": 7, "thickness": 2, "orient": "horizontal"},
      "encoding": {"y": {"field": "hi", "type": "quantitative", "axis": {"title": "Angle error (°)", "values": [0, 25, 50, 75, 100, 125, 150]}}}
    },
    {
      "transform": [{"filter": "datum.g === 'Mean'"}],
      "mark": {"type": "circle", "size": 140, "color": "#0052BE", "opacity": 1},
      "encoding": {"y": {"field": "v", "type": "quantitative", "axis": {"title": "Angle error (°)", "values": [0, 25, 50, 75, 100, 125, 150]}}}
    }
  ]
},
"config": {
  "font": "Liberation Sans",
  "view": {"stroke": "#8C8C8C", "strokeWidth": 1},
  "axis": {"grid": true, "gridColor": "#E4E4E4", "gridWidth": 1, "domain": false, "ticks": false, "labelFont": "Liberation Sans", "labelFontSize": 21, "labelColor": "#262626", "titleFont": "Liberation Sans", "titleFontSize": 23, "titleFontWeight": "normal", "titleColor": "#262626"},
  "axisX": {"labelPadding": 11, "titlePadding": 8, "labelAngle": 0},
  "axisY": {"labelPadding": 7, "titlePadding": 6},
  "header": {"labelFont": "Liberation Sans", "labelFontWeight": "bold", "labelColor": "black"},
  "legend": {"orient": "none", "legendX": 94, "legendY": 5, "fillColor": "white", "strokeColor": "#262626", "padding": 4, "symbolSize": 324, "labelFontSize": 18, "labelFont": "Liberation Sans", "labelColor": "black", "rowPadding": 5, "symbolStrokeWidth": 0, "labelOffset": 7}
}
}
